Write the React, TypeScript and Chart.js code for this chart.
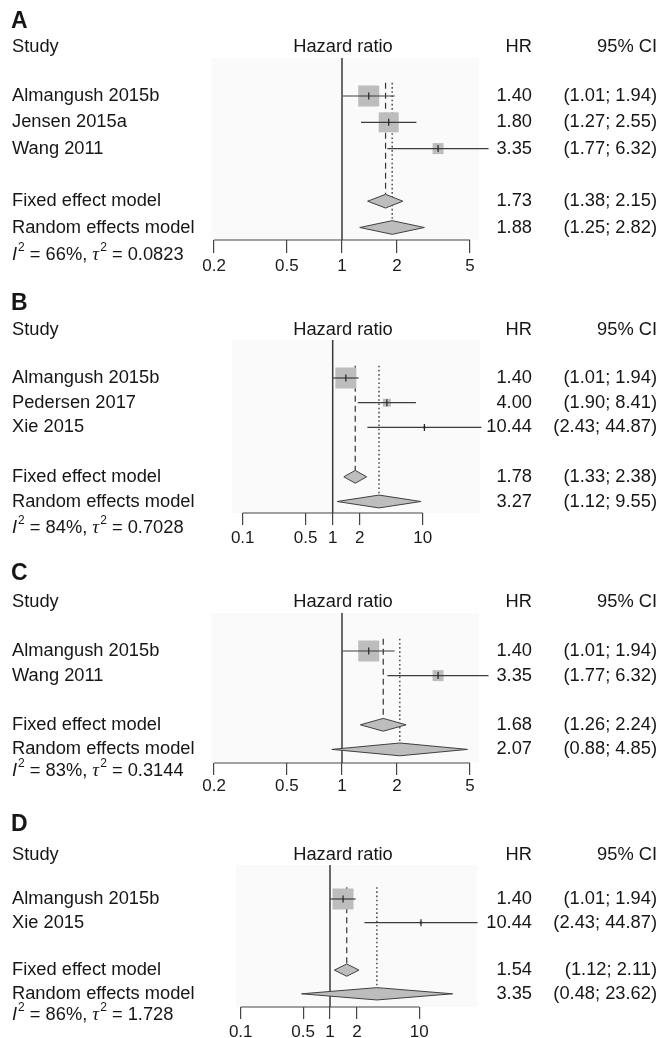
import React, { useEffect, useRef } from "react";
import { Chart, registerables } from "chart.js";

Chart.register(...registerables);

// ---------------- data ----------------
const studiesA = ["Almangush 2015b", "Jensen 2015a", "Wang 2011"];
const hrA = [1.4, 1.8, 3.35];
const lowerA = [1.01, 1.27, 1.77];
const upperA = [1.94, 2.55, 6.32];
const fixedA = [1.73, 1.38, 2.15];
const randomA = [1.88, 1.25, 2.82];
const i2A = "66%";
const tau2A = "0.0823";

const studiesB = ["Almangush 2015b", "Pedersen 2017", "Xie 2015"];
const hrB = [1.4, 4.0, 10.44];
const lowerB = [1.01, 1.9, 2.43];
const upperB = [1.94, 8.41, 44.87];
const fixedB = [1.78, 1.33, 2.38];
const randomB = [3.27, 1.12, 9.55];
const i2B = "84%";
const tau2B = "0.7028";

const studiesC = ["Almangush 2015b", "Wang 2011"];
const hrC = [1.4, 3.35];
const lowerC = [1.01, 1.77];
const upperC = [1.94, 6.32];
const fixedC = [1.68, 1.26, 2.24];
const randomC = [2.07, 0.88, 4.85];
const i2C = "83%";
const tau2C = "0.3144";

const studiesD = ["Almangush 2015b", "Xie 2015"];
const hrD = [1.4, 10.44];
const lowerD = [1.01, 2.43];
const upperD = [1.94, 44.87];
const fixedD = [1.54, 1.12, 2.11];
const randomD = [3.35, 0.48, 23.62];
const i2D = "86%";
const tau2D = "1.728";

const ticksNarrow = [0.2, 0.5, 1, 2, 5];
const tickLabelsNarrow = ["0.2", "0.5", "1", "2", "5"];
const ticksWide = [0.1, 0.5, 1, 2, 10];
const tickLabelsWide = ["0.1", "0.5", "1", "2", "10"];

// ---------------- styles / layout ----------------
const W = 662;
const H_TOTAL = 1038;
const FONT = '"Liberation Sans", Arial, Helvetica, sans-serif';
const TEXT_SIZE = 18.3;
const TEXT = "#161616";
const BOX_FILL = "#bdbdbd";
const LINE_DARK = "#333333";
const DIAMOND_H = 0.26;
const COL_STUDY = 12;
const COL_PLOT = 343;
const COL_HR = 532;
const COL_CI = 657;

const boxesA = [21, 20, 11];
const boxesB = [21, 8, 3];
const boxesC = [21, 11];
const boxesD = [21, 3];

const layoutA = { top: 0, height: 290, row1: 96, step: 26.3, refTop: 58, axis: 240, header: 47, letter: 22, het: 255, one: 342, decade: 183, left: 211, right: 479, tickLen: 13, tickPad: 3 };
const layoutB = { top: 290, height: 268, row1: 378, step: 24.7, refTop: 340, axis: 513, header: 330, letter: 304, het: 528, one: 332.7, decade: 90, left: 232, right: 480, tickLen: 12, tickPad: 3 };
const layoutC = { top: 558, height: 252, row1: 651, step: 24.6, refTop: 613, axis: 763, header: 602, letter: 574, het: 771, one: 342, decade: 183, left: 211, right: 479, tickLen: 12, tickPad: 1 };
const layoutD = { top: 810, height: 240, row1: 899, step: 23.7, refTop: 865, axis: 1007, header: 855, letter: 825, het: 1015, one: 330, decade: 89.3, left: 236, right: 477, tickLen: 12, tickPad: 3 };

type Layout = typeof layoutA;
type PanelCfg = {
  letter: string;
  studies: string[];
  hr: number[];
  lower: number[];
  upper: number[];
  fixed: number[];
  random: number[];
  i2: string;
  tau2: string;
  ticks: number[];
  tickLabels: string[];
  boxes: number[];
  layout: Layout;
};

const panels: PanelCfg[] = [
  { letter: "A", studies: studiesA, hr: hrA, lower: lowerA, upper: upperA, fixed: fixedA, random: randomA, i2: i2A, tau2: tau2A, ticks: ticksNarrow, tickLabels: tickLabelsNarrow, boxes: boxesA, layout: layoutA },
  { letter: "B", studies: studiesB, hr: hrB, lower: lowerB, upper: upperB, fixed: fixedB, random: randomB, i2: i2B, tau2: tau2B, ticks: ticksWide, tickLabels: tickLabelsWide, boxes: boxesB, layout: layoutB },
  { letter: "C", studies: studiesC, hr: hrC, lower: lowerC, upper: upperC, fixed: fixedC, random: randomC, i2: i2C, tau2: tau2C, ticks: ticksNarrow, tickLabels: tickLabelsNarrow, boxes: boxesC, layout: layoutC },
  { letter: "D", studies: studiesD, hr: hrD, lower: lowerD, upper: upperD, fixed: fixedD, random: randomD, i2: i2D, tau2: tau2D, ticks: ticksWide, tickLabels: tickLabelsWide, boxes: boxesD, layout: layoutD },
];

function diamond(est: number[], row: number) {
  return [
    { x: est[1], y: row },
    { x: est[0], y: row - DIAMOND_H },
    { x: est[2], y: row },
    { x: est[0], y: row + DIAMOND_H },
    { x: est[1], y: row },
  ];
}

function buildDatasets(p: PanelCfg, yMin: number, yMax: number) {
  const n = p.studies.length;
  const fixedRow = n + 2;
  const randomRow = n + 3;
  const ds: any[] = [];
  const lineBase = { showLine: true, pointRadius: 0, pointHoverRadius: 0, clip: false, fill: false };
  ds.push({ ...lineBase, label: "ref", data: [{ x: 1, y: yMin }, { x: 1, y: yMax }], borderColor: "#3a3a3a", borderWidth: 1.5, order: 9 });
  ds.push({ ...lineBase, label: "fixed line", data: [{ x: p.fixed[0], y: 0.5 }, { x: p.fixed[0], y: fixedRow - DIAMOND_H }], borderColor: LINE_DARK, borderWidth: 1.2, borderDash: [6, 4], order: 8 });
  ds.push({ ...lineBase, label: "random line", data: [{ x: p.random[0], y: 0.5 }, { x: p.random[0], y: randomRow - DIAMOND_H }], borderColor: LINE_DARK, borderWidth: 1.3, borderDash: [1.6, 2.6], order: 8 });
  const pts = p.hr.map((v, i) => ({ x: v, y: i + 1 }));
  ds.push({
    label: "boxes", data: pts, showLine: false, clip: false,
    pointStyle: "rect", pointRadius: p.boxes.map((s) => s / Math.SQRT2), pointHoverRadius: p.boxes.map((s) => s / Math.SQRT2),
    pointBackgroundColor: BOX_FILL, pointBorderWidth: 0, pointBorderColor: BOX_FILL, order: 7,
  });
  p.hr.forEach((_, i) => {
    ds.push({ ...lineBase, label: "ci" + i, data: [{ x: p.lower[i], y: i + 1 }, { x: p.upper[i], y: i + 1 }], borderColor: "#3c3c3c", borderWidth: 1.2, order: 6 });
  });
  ds.push({
    label: "estimate", data: pts, showLine: false, clip: false,
    pointStyle: "line", pointRotation: 90, pointRadius: 3.5, pointHoverRadius: 3.5,
    pointBorderColor: "#222", pointBorderWidth: 1.2, order: 5,
  });
  ds.push({ ...lineBase, label: "fixed", data: diamond(p.fixed, fixedRow), fill: "shape", backgroundColor: BOX_FILL, borderColor: "#404040", borderWidth: 1, order: 4 });
  ds.push({ ...lineBase, label: "random", data: diamond(p.random, randomRow), fill: "shape", backgroundColor: BOX_FILL, borderColor: "#404040", borderWidth: 1, order: 4 });
  ds.push({ ...lineBase, label: "axis", data: [{ x: p.ticks[0], y: yMax }, { x: p.ticks[p.ticks.length - 1], y: yMax }], borderColor: "#444", borderWidth: 1.2, order: 3 });
  return ds;
}

function drawHet(ctx: CanvasRenderingContext2D, x: number, y: number, i2: string, tau2: string) {
  ctx.textAlign = "left";
  const seg = (t: string, font: string, dy = 0) => {
    ctx.font = font;
    ctx.fillText(t, x, y + dy);
    x += ctx.measureText(t).width;
  };
  seg("I", `italic ${TEXT_SIZE}px ${FONT}`);
  x += 1;
  seg("2", `12px ${FONT}`, -7);
  seg(` = ${i2}, `, `${TEXT_SIZE}px ${FONT}`);
  seg("\u03c4", `italic 19px "Liberation Serif", "DejaVu Serif", serif`);
  x += 1;
  seg("2", `12px ${FONT}`, -7);
  seg(` = ${tau2}`, `${TEXT_SIZE}px ${FONT}`);
}

function textPlugin(p: PanelCfg) {
  return {
    id: "forestText" + p.letter,
    beforeDatasetsDraw(chart: any) {
      const { ctx, chartArea } = chart;
      ctx.save();
      ctx.fillStyle = "#fafafa";
      ctx.fillRect(chartArea.left, chartArea.top, chartArea.right - chartArea.left, chartArea.bottom - chartArea.top);
      ctx.restore();
    },
    afterDraw(chart: any) {
      const ctx: CanvasRenderingContext2D = chart.ctx;
      const L = p.layout;
      const ys = chart.scales.y;
      const rowOf = (px: number) => 1 + (px - L.row1) / L.step;
      const Y = (row: number) => ys.getPixelForValue(row);
      const n = p.studies.length;
      ctx.save();
      ctx.fillStyle = TEXT;
      ctx.textBaseline = "middle";
      ctx.textAlign = "left";
      ctx.font = `bold 23px ${FONT}`;
      ctx.fillText(p.letter, COL_STUDY - 1, Y(rowOf(L.letter)));
      ctx.font = `${TEXT_SIZE}px ${FONT}`;
      const hy = Y(rowOf(L.header));
      ctx.fillText("Study", COL_STUDY, hy);
      ctx.textAlign = "center";
      ctx.fillText("Hazard ratio", COL_PLOT, hy);
      ctx.textAlign = "right";
      ctx.fillText("HR", COL_HR, hy);
      ctx.fillText("95% CI", COL_CI, hy);
      const rowText = (row: number, name: string, est: number, lo: number, hi: number) => {
        const y = Y(row);
        ctx.textAlign = "left";
        ctx.fillText(name, COL_STUDY, y);
        ctx.textAlign = "right";
        ctx.fillText(est.toFixed(2), COL_HR, y);
        ctx.fillText(`(${lo.toFixed(2)}; ${hi.toFixed(2)})`, COL_CI, y);
      };
      p.studies.forEach((s, i) => rowText(i + 1, s, p.hr[i], p.lower[i], p.upper[i]));
      rowText(n + 2, "Fixed effect model", p.fixed[0], p.fixed[1], p.fixed[2]);
      rowText(n + 3, "Random effects model", p.random[0], p.random[1], p.random[2]);
      drawHet(ctx, COL_STUDY, Y(rowOf(L.het)), p.i2, p.tau2);
      ctx.restore();
    },
  };
}

function ForestPanel({ p }: { p: PanelCfg }) {
  const ref = useRef<HTMLCanvasElement | null>(null);
  useEffect(() => {
    if (!ref.current) return;
    const L = p.layout;
    const axisH = L.tickLen + L.tickPad + 22;
    const yMin = 1 - (L.row1 - L.refTop) / L.step;
    const yMax = 1 + (L.axis - L.row1) / L.step;
    const xMin = Math.pow(10, (L.left - L.one) / L.decade);
    const xMax = Math.pow(10, (L.right - L.one) / L.decade);
    const padTop = L.refTop - L.top;
    const padBottom = L.height - (L.axis - L.top) - axisH;
    const chart = new Chart(ref.current, {
      type: "scatter",
      data: { datasets: buildDatasets(p, yMin, yMax) },
      options: {
        animation: false,
        responsive: true,
        maintainAspectRatio: false,
        events: [],
        layout: { padding: { left: L.left, right: W - L.right, top: padTop, bottom: padBottom } },
        plugins: { legend: { display: false }, tooltip: { enabled: false }, title: { display: false } },
        scales: {
          x: {
            type: "logarithmic",
            position: "bottom",
            min: xMin,
            max: xMax,
            afterBuildTicks: (scale: any) => {
              scale.ticks = p.ticks.map((v) => ({ value: v }));
            },
            afterFit: (scale: any) => {
              scale.height = axisH;
            },
            ticks: {
              autoSkip: false,
              maxRotation: 0,
              minRotation: 0,
              padding: L.tickPad,
              color: "#1a1a1a",
              font: { family: FONT, size: 17 },
              callback: (_v: any, i: number) => p.tickLabels[i],
            },
            grid: { drawOnChartArea: false, drawTicks: true, tickLength: L.tickLen, color: "#444", lineWidth: 1.2 },
            border: { display: false },
          },
          y: { type: "linear", reverse: true, min: yMin, max: yMax, display: false },
        },
      } as any,
      plugins: [textPlugin(p)],
    });
    return () => chart.destroy();
  }, [p]);
  return (
    <div style={{ position: "relative", width: W, height: p.layout.height }}>
      <canvas ref={ref} />
    </div>
  );
}

export default function App() {
  useEffect(() => {
    document.body.style.margin = "0";
    document.body.style.background = "#ffffff";
    document.body.style.overflow = "hidden";
  }, []);
  return (
    <div style={{ width: W, height: H_TOTAL, overflow: "hidden", background: "#fff" }}>
      {panels.map((p) => (
        <ForestPanel key={p.letter} p={p} />
      ))}
    </div>
  );
}
